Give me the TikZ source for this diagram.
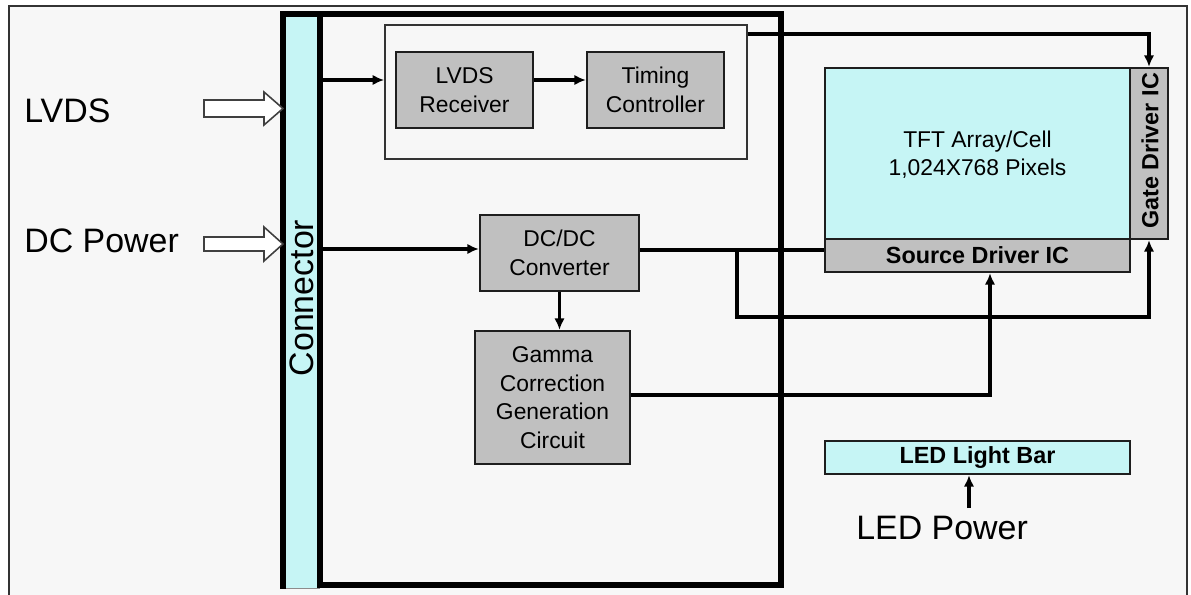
\documentclass[tikz,border=0pt]{standalone}
\usepackage{fontspec}
\setmainfont{Liberation Sans}
\usetikzlibrary{arrows.meta,fit,calc}
\definecolor{bgc}{HTML}{F7F7F7}
\definecolor{cyanf}{HTML}{C6F5F5}
\definecolor{grayf}{HTML}{C0C0C0}
\definecolor{edgec}{HTML}{1E1E1E}
\begin{document}
\begin{tikzpicture}[x=0.02cm,y=-0.02cm,
  blk/.style={draw=edgec, line width=1.4pt, fill=grayf, inner sep=0pt, align=center,
              font=\fontsize{13}{16.2}\selectfont},
  cyanblk/.style={blk, fill=cyanf},
  boldtxt/.style={font=\fontsize{13.3}{16}\selectfont\bfseries, inner sep=0pt},
  bigtxt/.style={font=\fontsize{19.3}{23}\selectfont, inner sep=0pt},
  arr/.style={line width=1.9pt, -{Latex[length=6.5pt,width=6pt]}},
  wire/.style={line width=1.9pt},
  hollow/.style={draw=black!75, line width=0.9pt, fill=white, line join=miter},
  frameline/.style={line width=3.4pt, line join=miter, line cap=rect}
]
\useasboundingbox (0,0) rectangle (1191,595);
\fill[white] (0,0) rectangle (1191,595);
\fill[bgc] (9,6) rectangle (1187,595);
\draw[black!80, line width=1pt] (9,600) |- (1187,6) -- (1187,600);

% connector strip and thick frame
\node[fit={(284,14)(319,588)}, inner sep=0pt, fill=cyanf, draw=black!45, line width=0.5pt] (conn) {};
\node[bigtxt, rotate=90] at (302,298) {Connector};
\draw[frameline] (283,586) -- (283,14) -- (781,14) -- (781,585) -- (320,585);
\draw[frameline] (320,14) -- (320,585);

% input labels and hollow arrows
\node[bigtxt, anchor=base west] (lvds) at (24,122) {LVDS};
\node[bigtxt, anchor=base west] (dcp) at (24,252) {DC Power};
\draw[hollow] (204,100) -- (264,100) -- (264,92) -- (283,108.5) -- (264,125) -- (264,117) -- (204,117) -- cycle;
\draw[hollow] (204,237) -- (264,237) -- (264,227) -- (283,244) -- (264,261) -- (264,251) -- (204,251) -- cycle;

% blocks
\node[fit={(385,25)(747,159)}, inner sep=0pt, draw=black!80, line width=1.1pt, fill=bgc] (inbox) {};
\node[blk, fit={(396,52)(533,128)}] (rx) {};
\node[blk, draw=none, fill=none, align=center] at (rx.center) {LVDS\\Receiver};
\node[blk, fit={(587,52)(724,128)}] (tc) {};
\node[blk, draw=none, fill=none] at (tc.center) {Timing\\Controller};
\node[blk, fit={(480,215)(639,291)}] (dc) {};
\node[blk, draw=none, fill=none] at (dc.center) {DC/DC\\Converter};
\node[blk, fit={(475,331)(630,464)}] (gm) {};
\node[blk, draw=none, fill=none] at (gm.center) {Gamma\\Correction\\Generation\\Circuit};

\node[cyanblk, fit={(825,68)(1130,239)}] (tft) {};
\node[blk, draw=none, fill=none] at ($(tft.center)+(0,1)$) {TFT Array/Cell\\1,024X768 Pixels};
\node[blk, fit={(1130,68)(1168,239)}] (gate) {};
\node[boldtxt, rotate=90] at (1150,151) {Gate Driver IC};
\node[blk, fit={(825,239)(1130,272)}] (src) {};
\node[boldtxt] at (src.center) {Source Driver IC};
\node[cyanblk, fit={(825,441)(1130,474)}] (led) {};
\node[boldtxt] at (led.center) {LED Light Bar};
\node[bigtxt, anchor=base west] (ledp) at (856,539) {LED Power};

% connections
\draw[arr] (conn.east |- 0,80) -- (inbox.west |- 0,80);
\draw[arr] (rx.east |- 0,80) -- (tc.west |- 0,80);
\draw[arr] (inbox.east |- 0,34) -| (gate.north);
\draw[arr] (conn.east |- 0,249) -- (dc.west |- 0,249);
\draw[wire] (dc.east |- 0,250) -- (src.west |- 0,250);
\coordinate (br) at (737,250);
\draw[arr] (br) |- (gate.south |- 0,317) -- (gate.south);
\draw[arr] (dc.south) -- (dc.south |- gm.north);
\draw[arr] (gm.east |- 0,395) -| ($(src.south)+(12.5,0)$);
\coordinate (lp) at (969,508);
\draw[arr] (lp) -- (lp |- led.south);
\end{tikzpicture}
\end{document}
